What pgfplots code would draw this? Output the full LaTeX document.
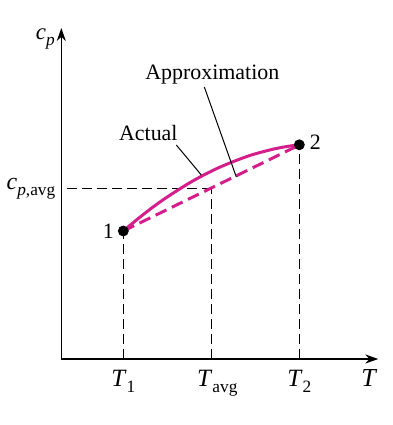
\documentclass[border=0pt]{standalone}
\usepackage{fontspec}
\setmainfont{Liberation Serif}
\usepackage{pgfplots}
\pgfplotsset{compat=1.18}
\usetikzlibrary{arrows.meta}
\definecolor{mag}{RGB}{212,30,140}
\newcommand{\sub}[1]{\raisebox{-3bp}{\fontsize{8.7}{10}\selectfont #1}}
\begin{document}
\begin{tikzpicture}[font=\fontsize{11}{13}\selectfont]
\begin{axis}[
  x=0.5bp, y=0.5bp,
  xmin=0, xmax=317, ymin=0, ymax=331,
  axis lines=left,
  axis line style={line width=0.75bp, -{Stealth[length=6.5bp,width=4.5bp]}},
  xtick={62,150,238},
  xticklabels={\textit{T}\sub{1}, \hspace{6bp}\textit{T}\sub{avg}, \textit{T}\sub{2}},
  ytick={170},
  yticklabels={\fontsize{12}{14}\selectfont\textit{c}\sub{\textit{p},avg}},
  major tick length=0,
  tick label style={font=\fontsize{12.5}{14}\selectfont},
  xticklabel style={anchor=base, yshift=-13.5bp},
  yticklabel style={xshift=0.5bp},
  clip=false,
]
\path (axis cs:-60,-66) rectangle (axis cs:331,359);
% reference dashed lines
\addplot[black, line width=0.5bp, dash pattern=on 5bp off 2.5bp] coordinates {(62,0) (62,128)};
\addplot[black, line width=0.5bp, dash pattern=on 5bp off 2.5bp] coordinates {(150,0) (150,170)};
\addplot[black, line width=0.5bp, dash pattern=on 5bp off 2.5bp] coordinates {(238,0) (238,214)};
\addplot[black, line width=0.5bp, dash pattern=on 5bp off 2.5bp] coordinates {(6,170) (150,170)};
% actual curve
\addplot[mag, line width=1.5bp, smooth] coordinates {
  (62,128) (75,138.9) (90,150.7) (105,161.4) (125,174.2) (140,182.7)
  (160,192.5) (187,203) (210,209.4) (225,212.4) (238,214.2)};
% approximation
\addplot[mag, line width=1.5bp, dash pattern=on 6bp off 3bp] coordinates {(62,128) (238,214)};
% leader lines
\addplot[black, line width=0.5bp] coordinates {(115,214) (140,184)};
\addplot[black, line width=0.5bp] coordinates {(143,272) (175,182)};
% state points
\addplot[only marks, mark=*, mark size=2.5bp, black] coordinates {(62,128) (238,214.2)};
\node at (axis cs:151,284) {Approximation};
\node at (axis cs:87,226) {Actual};
\node at (axis cs:47,128) {1};
\node at (axis cs:254,217) {2};
\node[anchor=base, font=\fontsize{13}{15}\selectfont] at (axis cs:308,-27) {\textit{T}};
\node[anchor=base, font=\fontsize{11.5}{13}\selectfont] at (axis cs:-16,319) {\textit{c}\sub{\textit{p}}};
\end{axis}
\end{tikzpicture}
\end{document}
